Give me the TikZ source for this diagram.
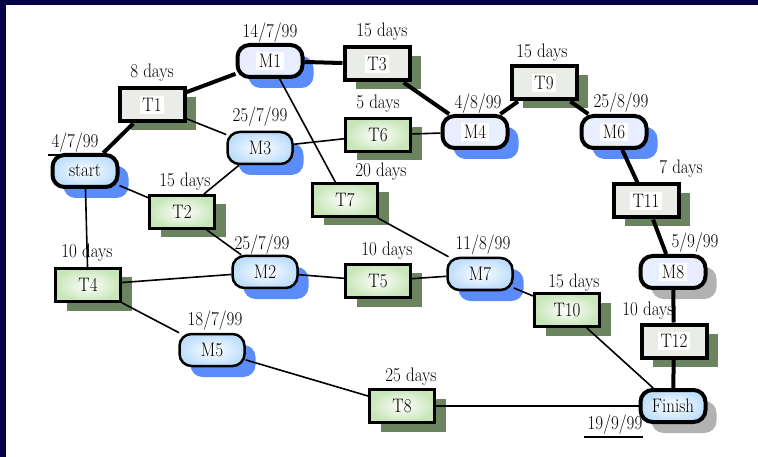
\documentclass[tikz,border=0pt]{standalone}
\usetikzlibrary{shadows}
\definecolor{bg}{RGB}{4,0,72}
\definecolor{shblue}{RGB}{90,140,250}
\definecolor{shgray}{RGB}{178,178,178}
\definecolor{shgreen}{RGB}{106,132,96}
\definecolor{greyfill}{RGB}{234,236,232}
\definecolor{lavfill}{RGB}{232,238,255}
\definecolor{greenout}{RGB}{200,230,185}
\definecolor{blueout}{RGB}{190,222,252}
\setlength{\fboxsep}{2.5pt}
\newcommand{\vs}[1]{\scalebox{1}[1.15]{#1}}
\newcommand{\wb}[1]{\colorbox{white}{\vs{#1}}}
\begin{document}
\begin{tikzpicture}[x=1pt,y=-1pt,
  every node/.style={font=\fontsize{17}{19}\selectfont},
  boxbase/.style={rectangle, minimum width=65pt, minimum height=33pt, inner sep=0pt, draw,
    general shadow={fill=shgreen, shadow xshift=11pt, shadow yshift=-9pt}},
  crittask/.style={boxbase, line width=4pt, fill=greyfill},
  greentask/.style={boxbase, line width=2.8pt, shading=radial, inner color=white, outer color=greenout},
  ovalbase/.style={rectangle, rounded corners=12pt, minimum width=65pt, minimum height=32pt, inner sep=0pt, draw},
  bshadow/.style={general shadow={fill=shblue, shadow xshift=11pt, shadow yshift=-11pt}},
  gshadow/.style={general shadow={fill=shgray, shadow xshift=11pt, shadow yshift=-11pt}},
  critoval/.style={ovalbase, line width=4pt, fill=lavfill},
  glowoval/.style={ovalbase, line width=2.5pt, shading=radial, inner color=white, outer color=blueout},
  endoval/.style={ovalbase, line width=4pt, shading=radial, inner color=white, outer color=blueout},
  lbl/.style={inner sep=0pt},
  thinedge/.style={line width=1.6pt},
  critedge/.style={line width=4pt}
]
\useasboundingbox (0,0) rectangle (758,457);
\fill[bg] (0,0) rectangle (758,457);
\fill[white] (6,5) rectangle (758,457);

% milestone / event nodes
\node[endoval, bshadow] (start) at (85,171) {\vs{start}};
\node[critoval, bshadow] (M1) at (270,61) {\wb{M1}};
\node[critoval, bshadow] (M4) at (475,132) {\wb{M4}};
\node[critoval, bshadow] (M6) at (614,132) {\wb{M6}};
\node[critoval, gshadow] (M8) at (673,272) {\wb{M8}};
\node[endoval, gshadow] (Fin) at (673,406) {\vs{Finish}};
\node[glowoval, bshadow] (M3) at (260,148) {\vs{M3}};
\node[glowoval, bshadow] (M2) at (265,272) {\vs{M2}};
\node[glowoval, bshadow] (M7) at (480,274) {\vs{M7}};
\node[glowoval, bshadow] (M5) at (212,350) {\vs{M5}};

% task nodes
\node[crittask] (T1) at (152,105) {\wb{T1}};
\node[crittask] (T3) at (377,64) {\wb{T3}};
\node[crittask] (T9) at (544,83) {\wb{T9}};
\node[crittask] (T11) at (646,201) {\wb{T11}};
\node[crittask] (T12) at (674,341) {\wb{T12}};
\node[greentask] (T2) at (182,212) {\vs{T2}};
\node[greentask] (T6) at (378,135) {\vs{T6}};
\node[greentask] (T7) at (345,200) {\vs{T7}};
\node[greentask] (T4) at (88,285) {\vs{T4}};
\node[greentask] (T5) at (378,281) {\vs{T5}};
\node[greentask] (T10) at (567,310) {\vs{T10}};
\node[greentask] (T8) at (402,406) {\vs{T8}};

% labels
\node[lbl] (l0) at (75,143) {\vs{4/7/99}};
\node[lbl] (l1) at (152,73) {\vs{8 days}};
\node[lbl] (l2) at (270,33) {\vs{14/7/99}};
\node[lbl] (l3) at (382,32) {\vs{15 days}};
\node[lbl] (l4) at (260,117) {\vs{25/7/99}};
\node[lbl] (l5) at (378,104) {\vs{5 days}};
\node[lbl] (l6) at (478,104) {\vs{4/8/99}};
\node[lbl] (l7) at (542,53) {\vs{15 days}};
\node[lbl] (l8) at (621,103) {\vs{25/8/99}};
\node[lbl] (l9) at (681,169) {\vs{7 days}};
\node[lbl] (l10) at (185,182) {\vs{15 days}};
\node[lbl] (l11) at (381,172) {\vs{20 days}};
\node[lbl] (l12) at (87,253) {\vs{10 days}};
\node[lbl] (l13) at (262,245) {\vs{25/7/99}};
\node[lbl] (l14) at (387,251) {\vs{10 days}};
\node[lbl] (l15) at (483,245) {\vs{11/8/99}};
\node[lbl] (l16) at (574,283) {\vs{15 days}};
\node[lbl] (l17) at (695,243) {\vs{5/9/99}};
\node[lbl] (l18) at (648,311) {\vs{10 days}};
\node[lbl] (l19) at (215,321) {\vs{18/7/99}};
\node[lbl] (l20) at (411,377) {\vs{25 days}};
\node[lbl] (l21) at (615,425) {\vs{19/9/99}};
\draw[line width=2.5pt] ([xshift=-3pt,yshift=-2pt]l0.south west) -- ([yshift=-2pt]l0.south east);
\draw[line width=2.5pt] ([xshift=-3pt,yshift=-2pt]l21.south west) -- ([yshift=-2pt]l21.south east);

% critical path
\draw[critedge] (start) -- (T1);
\draw[critedge] (T1) -- (M1);
\draw[critedge] (M1) -- (T3);
\draw[critedge] (T3) -- (M4);
\draw[critedge] (M4) -- (T9);
\draw[critedge] (T9) -- (M6);
\draw[critedge] (M6) -- (T11);
\draw[critedge] (T11) -- (M8);
\draw[critedge] (M8) -- (T12);
\draw[critedge] (T12) -- (Fin);

% other dependencies
\draw[thinedge] (T1) -- (M3);
\draw[thinedge] (start) -- (T2);
\draw[thinedge] (M3) -- (T2);
\draw[thinedge] (M3) -- (T6);
\draw[thinedge] (T6) -- (M4);
\draw[thinedge] (M1) -- (T7);
\draw[thinedge] (start) -- (T4);
\draw[thinedge] (T2) -- (M2);
\draw[thinedge] (T4) -- (M2);
\draw[thinedge] (M2) -- (T5);
\draw[thinedge] (T5) -- (M7);
\draw[thinedge] (T7) -- (M7);
\draw[thinedge] (M7) -- (T10);
\draw[thinedge] (T10) -- (Fin);
\draw[thinedge] (T4) -- (M5);
\draw[thinedge] (M5) -- (T8);
\draw[thinedge] (T8) -- (Fin);
\end{tikzpicture}
\end{document}
